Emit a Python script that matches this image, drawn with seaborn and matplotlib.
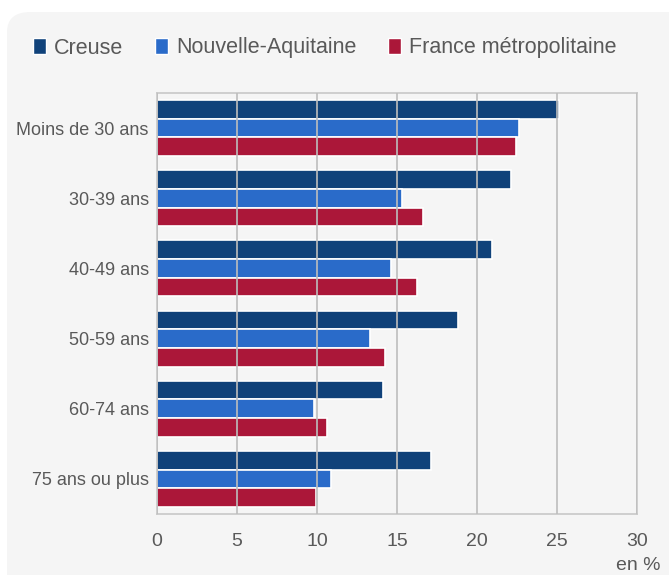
import matplotlib
matplotlib.use("Agg")
import matplotlib.pyplot as plt
import seaborn as sns
import pandas as pd
from matplotlib.patches import FancyBboxPatch

categories = ["Moins de 30 ans", "30-39 ans", "40-49 ans", "50-59 ans", "60-74 ans", "75 ans ou plus"]
series = ["Creuse", "Nouvelle-Aquitaine", "France métropolitaine"]
creuse = [25.1, 22.1, 20.95, 18.8, 14.1, 17.1]
nouvelle_aquitaine = [22.6, 15.3, 14.6, 13.3, 9.8, 10.9]
france = [22.45, 16.6, 16.25, 14.25, 10.65, 9.95]
x_ticks = [0, 5, 10, 15, 20, 25, 30]
colors = ["#10427A", "#2A6BC9", "#AB1739"]

rows = []
for name, vals in zip(series, [creuse, nouvelle_aquitaine, france]):
    for c, v in zip(categories, vals):
        rows.append({"cat": c, "serie": name, "val": v})
df = pd.DataFrame(rows)

sns.set_theme(style="white")
plt.rcParams["font.family"] = ["Liberation Sans Narrow", "Liberation Sans", "DejaVu Sans"]

fig = plt.figure(figsize=(6.69, 5.75), dpi=100)
fig.patch.set_facecolor("white")
bg = FancyBboxPatch((7 / 669, -0.1), 1.1, (575 - 12) / 575 + 0.1,
                    boxstyle="round,pad=0,rounding_size=0.035",
                    transform=fig.transFigure, facecolor="#F5F5F5", edgecolor="none", zorder=-5)
fig.patches.append(bg)

ax = fig.add_axes([157 / 669, (575 - 514) / 575, (637 - 157) / 669, (514 - 93) / 575])
ax.set_zorder(1)
ax.set_facecolor("#F5F5F5")
sns.barplot(data=df, y="cat", x="val", hue="serie", order=categories, hue_order=series,
            palette=colors, orient="h", width=0.8, edgecolor="white", linewidth=1.2,
            saturation=1, ax=ax, legend=True)

ax.set_xlim(0, 30)
ax.set_xticks(x_ticks)
ax.set_xticklabels([str(t) for t in x_ticks], fontsize=14, color="#595959")
ax.tick_params(axis="x", length=0, pad=14)
ax.tick_params(axis="y", length=0, pad=6)
for lab in ax.get_yticklabels():
    lab.set_fontsize(13)
    lab.set_color("#595959")
ax.set_xlabel("")
ax.set_ylabel("")
ax.grid(axis="x", color="#BDBDBD", linewidth=1.2)
ax.set_axisbelow(False)
for s in ax.spines.values():
    s.set_color("#C8C8C8")
    s.set_linewidth(1.2)
for bar in ax.patches:
    bar.set_zorder(2)
for line in ax.get_xgridlines():
    line.set_zorder(3)

ax.get_legend().remove()
handles = [plt.Rectangle((0, 0), 1, 1, facecolor=c) for c in colors]
fig.legend(handles, series, loc="center left", bbox_to_anchor=(14 / 669, 1 - 48 / 575),
           ncol=3, frameon=False, fontsize=15.5, handlelength=0.6, handleheight=0.75,
           handletextpad=0.35, columnspacing=1.5, labelcolor="#595959")

fig.text(661 / 669, 1 - 565 / 575, "en %", ha="right", va="center", fontsize=14, color="#595959")

fig.savefig("out.png", dpi=100)
